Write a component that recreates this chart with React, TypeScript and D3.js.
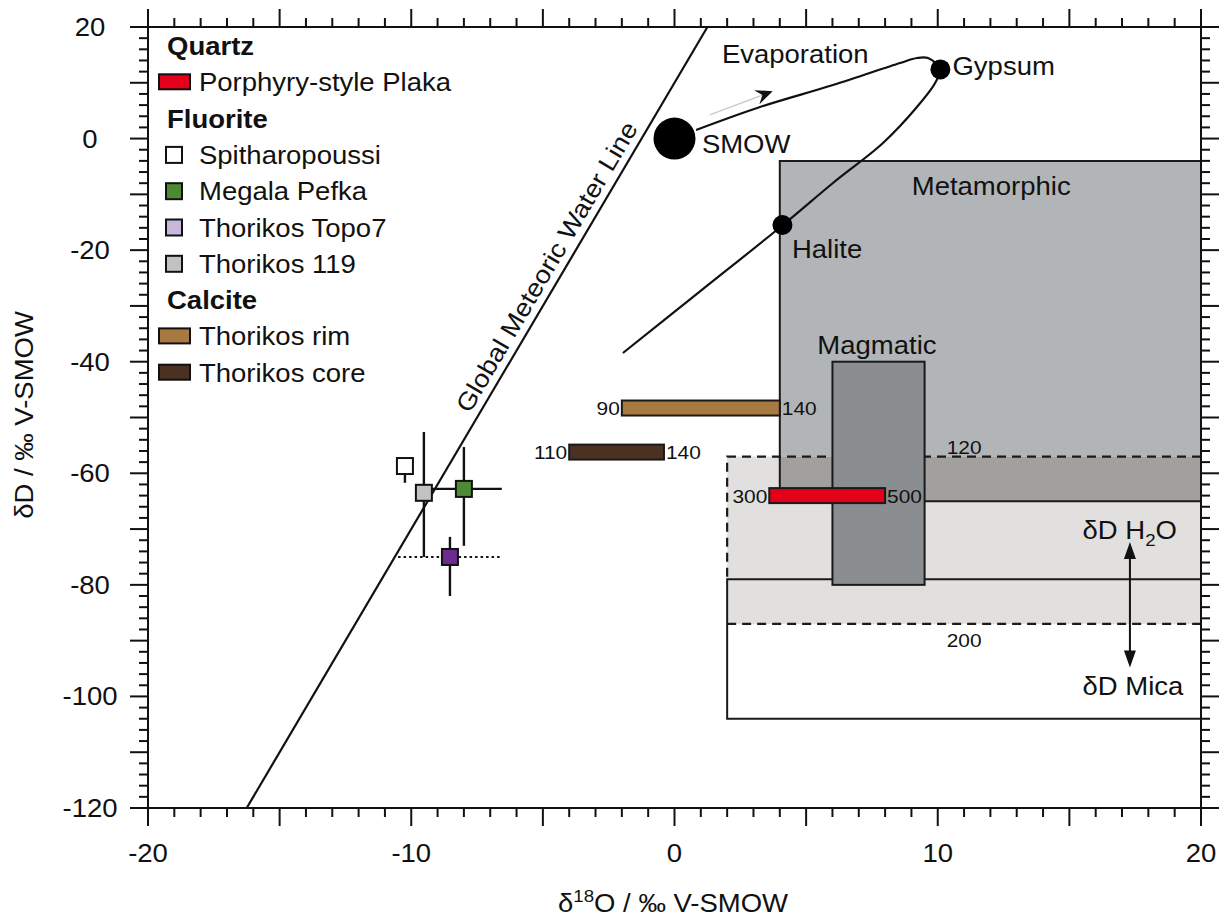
import React from "react";
import * as d3 from "d3";

// ---------- data ----------
const xDomain = [-20, 20];
const yDomain = [-120, 20];
const xLabelTicks = [-20, -10, 0, 10, 20];
const yLabelTicks = [20, 0, -20, -40, -60, -80, -100, -120];

// Global Meteoric Water Line: dD = 8 * d18O + 10
const gmwlSlope = 8;
const gmwlIntercept = 10;

// evaporation trajectory of sea water
const evapX = [0.82, 3.25, 6.02, 8.57, 9.21, 9.63, 10.09, 9.9, 9.21, 7.92, 6.02, 4.12, 0.97, -1.96];
const evapY = [1.54, 5.66, 9.6, 13.55, 14.44, 14.44, 12.47, 9.96, 5.66, -0.79, -7.96, -15.49, -27.4, -38.44];

// reference waters
const refNames = ["SMOW", "Gypsum", "Halite"];
const refX = [0, 10.1, 4.1];
const refY = [0, 12.4, -15.5];

// fields
const metamorphicX = [4, 20];
const metamorphicY = [-65, -4];
const magmaticX = [6, 9.5];
const magmaticY = [-80, -40];
const h2oX = [2, 20];
const h2oY = [-87, -57];
const micaX = [2, 20];
const micaY = [-104, -79];
const h2oTempLabels = ["120", "200"];

// quartz / calcite ranges (temperature labels at ends)
const barNames = ["Porphyry-style Plaka", "Thorikos rim", "Thorikos core"];
const barX0 = [3.6, -2.0, -4.0];
const barX1 = [8.0, 4.0, -0.4];
const barY = [-64.0, -48.3, -56.2];
const barLabelLo = ["300", "90", "110"];
const barLabelHi = ["500", "140", "140"];

// fluorite points
const ptNames = ["Spitharopoussi", "Thorikos 119", "Megala Pefka", "Thorikos Topo7"];
const ptX = [-10.24, -9.52, -8.0, -8.53];
const ptY = [-58.7, -63.5, -62.8, -75.0];
const ptYLo = [-61.7, -75.0, -73.0, -82.0];
const ptYHi = [-58.7, -52.6, -55.3, -71.4];
const ptXLo = [NaN, NaN, -9.44, -10.5];
const ptXHi = [NaN, NaN, -6.56, -6.55];

// legend
const legendLabels = [
  "Quartz", "Porphyry-style Plaka",
  "Fluorite", "Spitharopoussi", "Megala Pefka", "Thorikos Topo7", "Thorikos 119",
  "Calcite", "Thorikos rim", "Thorikos core",
];
const legendKinds = ["h", "bar", "h", "sq", "sq", "sq", "sq", "h", "bar", "bar"];

// ---------- style ----------
const FONT = "'Liberation Sans', Arial, Helvetica, sans-serif";
const SX = 1.1; // horizontal stretch of the reference typeface
const colors: Record<string, string> = {
  "Porphyry-style Plaka": "#e2001a",
  "Spitharopoussi": "#ffffff",
  "Megala Pefka": "#4e8a34",
  "Thorikos Topo7": "#c8b6db",
  "Thorikos 119": "#c2c2c2",
  "Thorikos rim": "#a87940",
  "Thorikos core": "#4a3122",
};
const plotColors: Record<string, string> = { ...colors, "Thorikos Topo7": "#6d2b8e" };
const refRadius: Record<string, number> = { SMOW: 21, Gypsum: 10, Halite: 10 };

const W = 1224, H = 918;
const L = 148, R = 1201, T = 27, B = 808;

type TxtProps = {
  x: number;
  y: number;
  size?: number;
  anchor?: "start" | "middle" | "end";
  weight?: string;
  rotate?: number;
  children: React.ReactNode;
};
function Txt({ x, y, size = 25, anchor = "start", weight = "normal", rotate = 0, children }: TxtProps) {
  return (
    <text
      transform={`translate(${x},${y}) rotate(${rotate}) scale(${SX},1)`}
      fontSize={size}
      fontWeight={weight}
      textAnchor={anchor}
      fill="#111"
    >
      {children}
    </text>
  );
}

export default function App() {
  const x = d3.scaleLinear().domain(xDomain).range([L, R]);
  const y = d3.scaleLinear().domain(yDomain).range([B, T]);

  const curve = d3
    .line<[number, number]>()
    .x((d) => x(d[0]))
    .y((d) => y(d[1]))
    .curve(d3.curveCatmullRom.alpha(0.5));
  const evapPts: [number, number][] = evapX.map((v, i) => [v, evapY[i]]);

  const gmwl: [number, number][] = [
    [(yDomain[0] - gmwlIntercept) / gmwlSlope, yDomain[0]],
    [(yDomain[1] - gmwlIntercept) / gmwlSlope, yDomain[1]],
  ];
  const gmwlAngle =
    (Math.atan2(y(gmwl[1][1]) - y(gmwl[0][1]), x(gmwl[1][0]) - x(gmwl[0][0])) * 180) / Math.PI;
  const gLabelDD = -24.5;
  const gLabelX = x((gLabelDD - gmwlIntercept) / gmwlSlope);
  const gLabelY = y(gLabelDD);
  const gRad = (gmwlAngle * Math.PI) / 180;
  // offset perpendicular to the line, toward upper-left
  const gOff = 8;
  const glx = gLabelX + gOff * Math.sin(gRad);
  const gly = gLabelY - gOff * Math.cos(gRad);

  const xMinor = d3.range(xDomain[0], xDomain[1] + 0.001, 1);
  const yMinor = d3.range(yDomain[0], yDomain[1] + 0.001, 2);

  const rect = (xs: number[], ys: number[]) => ({
    x: x(xs[0]),
    y: y(ys[1]),
    width: x(xs[1]) - x(xs[0]),
    height: y(ys[0]) - y(ys[1]),
  });

  const met = rect(metamorphicX, metamorphicY);
  const mag = rect(magmaticX, magmaticY);
  const h2o = rect(h2oX, h2oY);
  const mica = rect(micaX, micaY);
  const overlap = rect([metamorphicX[0], h2oX[1]], [metamorphicY[0], h2oY[1]]);

  // evaporation arrow
  const aS = [x(1.34), y(4.23)];
  const aTip = [x(3.73), y(8.5)];
  const aAng = Math.atan2(aTip[1] - aS[1], aTip[0] - aS[0]);
  const arrowHead = (tip: number[], ang: number, len: number, wid: number) => {
    const c = Math.cos(ang), s = Math.sin(ang);
    const bx = tip[0] - len * c, by = tip[1] - len * s;
    const nx = tip[0] - len * 0.65 * c, ny = tip[1] - len * 0.65 * s;
    const px = -s, py = c;
    return `M${tip[0]},${tip[1]}L${bx + (px * wid) / 2},${by + (py * wid) / 2}L${nx},${ny}L${bx - (px * wid) / 2},${by - (py * wid) / 2}Z`;
  };

  // double arrow dD H2O <-> dD Mica
  const dax = x(17.3);
  const daTop = y(-72.3);
  const daBot = y(-94.8);

  const legendRowY = (i: number) => 55 + i * 36.3;

  return (
    <svg
      width={W}
      height={H}
      style={{ position: "absolute", left: 0, top: 0, background: "#fff" }}
      fontFamily={FONT}
    >
      <rect x={0} y={0} width={W} height={H} fill="#fff" />
      {/* fields */}
      <rect {...met} fill="#b2b5b7" stroke="none" />
      <rect {...h2o} fill="#e2e0de" stroke="none" />
      <rect {...overlap} fill="#a2a09e" stroke="none" />
      <path
        d={`M${met.x + met.width},${met.y}H${met.x}V${met.y + met.height}H${met.x + met.width}`}
        fill="none"
        stroke="#1a1a1a"
        strokeWidth={2}
      />
      <path
        d={`M${h2o.x + h2o.width},${h2o.y}H${h2o.x}V${mica.y}`}
        fill="none"
        stroke="#1a1a1a"
        strokeWidth={2.2}
        strokeDasharray="9,6"
      />
      <line
        x1={h2o.x}
        x2={h2o.x + h2o.width}
        y1={h2o.y + h2o.height}
        y2={h2o.y + h2o.height}
        stroke="#1a1a1a"
        strokeWidth={2.2}
        strokeDasharray="9,6"
      />
      <path
        d={`M${mica.x + mica.width},${mica.y}H${mica.x}V${mica.y + mica.height}H${mica.x + mica.width}`}
        fill="none"
        stroke="#1a1a1a"
        strokeWidth={2}
      />
      <rect {...mag} fill="#8b8e90" stroke="#1a1a1a" strokeWidth={2} />

      {/* field labels */}
      <Txt x={x(12.03)} y={y(-10.1)} anchor="middle">Metamorphic</Txt>
      <Txt x={x(7.69)} y={y(-38.6)} anchor="middle">Magmatic</Txt>
      <Txt x={x(11.0)} y={y(-56.6)} size={19} anchor="middle">{h2oTempLabels[0]}</Txt>
      <Txt x={x(11.0)} y={y(-91.1)} size={19} anchor="middle">{h2oTempLabels[1]}</Txt>
      <Txt x={x(15.5)} y={y(-71.8)}>
        δD H<tspan fontSize={17} dy={7}>2</tspan>
        <tspan dy={-7}>O</tspan>
      </Txt>
      <Txt x={x(15.5)} y={y(-99.7)}>δD Mica</Txt>
      <line x1={dax} x2={dax} y1={daTop + 14} y2={daBot - 14} stroke="#111" strokeWidth={2} />
      <path d={`M${dax},${daTop}L${dax - 6},${daTop + 17}L${dax + 6},${daTop + 17}Z`} fill="#111" />
      <path d={`M${dax},${daBot}L${dax - 6},${daBot - 17}L${dax + 6},${daBot - 17}Z`} fill="#111" />

      {/* GMWL */}
      <line
        x1={x(gmwl[0][0])}
        y1={y(gmwl[0][1])}
        x2={x(gmwl[1][0])}
        y2={y(gmwl[1][1])}
        stroke="#111"
        strokeWidth={2.2}
      />
      <Txt x={glx} y={gly} rotate={gmwlAngle} anchor="middle">
        Global Meteoric Water Line
      </Txt>

      {/* evaporation curve */}
      <path d={curve(evapPts) || ""} fill="none" stroke="#111" strokeWidth={2.2} />
      <line x1={aS[0]} y1={aS[1]} x2={aTip[0] - 8 * Math.cos(aAng)} y2={aTip[1] - 8 * Math.sin(aAng)} stroke="#c9c9c9" strokeWidth={1.3} />
      <path d={arrowHead(aTip, aAng, 17, 15)} fill="#111" />
      <Txt x={x(1.8)} y={y(13.55)}>Evaporation</Txt>

      {refNames.map((n, i) => (
        <circle key={n} cx={x(refX[i])} cy={y(refY[i])} r={refRadius[n]} fill="#000" />
      ))}
      <Txt x={x(1.04)} y={y(-2.6)}>SMOW</Txt>
      <Txt x={x(10.56)} y={y(11.4)}>Gypsum</Txt>
      <Txt x={x(4.46)} y={y(-21.4)}>Halite</Txt>

      {/* bars */}
      {barNames.map((n, i) => (
        <g key={n}>
          <rect
            x={x(barX0[i])}
            y={y(barY[i]) - 7.5}
            width={x(barX1[i]) - x(barX0[i])}
            height={15}
            fill={colors[n]}
            stroke="#1a1a1a"
            strokeWidth={2}
          />
          <Txt x={x(barX0[i]) - 2} y={y(barY[i]) + 7} size={19} anchor="end">
            {barLabelLo[i]}
          </Txt>
          <Txt x={x(barX1[i]) + 2} y={y(barY[i]) + 7} size={19}>
            {barLabelHi[i]}
          </Txt>
        </g>
      ))}

      {/* fluorite error bars */}
      {ptNames.map((n, i) => (
        <g key={n + "e"}>
          <line x1={x(ptX[i])} x2={x(ptX[i])} y1={y(ptYLo[i])} y2={y(ptYHi[i])} stroke="#111" strokeWidth={2.4} />
          {!isNaN(ptXLo[i]) && (
            <line
              x1={x(ptXLo[i])}
              x2={x(ptXHi[i])}
              y1={y(ptY[i])}
              y2={y(ptY[i])}
              stroke="#111"
              strokeWidth={n === "Thorikos Topo7" ? 2 : 2.4}
              strokeDasharray={n === "Thorikos Topo7" ? "2.5,3" : undefined}
            />
          )}
        </g>
      ))}
      {ptNames.map((n, i) => (
        <rect
          key={n}
          x={x(ptX[i]) - 8}
          y={y(ptY[i]) - 8}
          width={16}
          height={16}
          fill={plotColors[n]}
          stroke="#111"
          strokeWidth={2}
        />
      ))}

      {/* frame and ticks */}
      <rect x={L} y={T} width={R - L} height={B - T} fill="none" stroke="#111" strokeWidth={2} />
      {xMinor.map((v) => {
        const len = Math.abs(v % 5) < 1e-6 ? 18 : 9;
        return (
          <g key={"xt" + v}>
            <line x1={x(v)} x2={x(v)} y1={B} y2={B + len} stroke="#111" strokeWidth={2} />
            <line x1={x(v)} x2={x(v)} y1={T} y2={T - len} stroke="#111" strokeWidth={2} />
          </g>
        );
      })}
      {yMinor.map((v) => {
        const len = Math.abs(v % 10) < 1e-6 ? 18 : 9;
        return (
          <g key={"yt" + v}>
            <line x1={L} x2={L - len} y1={y(v)} y2={y(v)} stroke="#111" strokeWidth={2} />
            <line x1={R} x2={R + len} y1={y(v)} y2={y(v)} stroke="#111" strokeWidth={2} />
          </g>
        );
      })}
      {xLabelTicks.map((v) => (
        <Txt key={"xl" + v} x={x(v)} y={862} anchor="middle">
          {v}
        </Txt>
      ))}
      {yLabelTicks.map((v) => (
        <Txt key={"yl" + v} x={90} y={y(v) + 9} anchor="middle">
          {v}
        </Txt>
      ))}
      <Txt x={673} y={912} anchor="middle">
        δ<tspan fontSize={17} dy={-10}>18</tspan>
        <tspan dy={10}>O / ‰ V-SMOW</tspan>
      </Txt>
      <Txt x={33} y={415} rotate={-90} anchor="middle">
        δD / ‰ V-SMOW
      </Txt>

      {/* legend */}
      {legendLabels.map((lab, i) => {
        const yy = legendRowY(i);
        const kind = legendKinds[i];
        if (kind === "h")
          return (
            <Txt key={lab} x={167} y={yy} weight="bold">
              {lab}
            </Txt>
          );
        return (
          <g key={lab}>
            {kind === "bar" ? (
              <rect x={159} y={yy - 17} width={31} height={15} fill={colors[lab]} stroke="#111" strokeWidth={2} />
            ) : (
              <rect x={166} y={yy - 17} width={16} height={16} fill={colors[lab]} stroke="#111" strokeWidth={2} />
            )}
            <Txt x={199} y={yy}>
              {lab}
            </Txt>
          </g>
        );
      })}
    </svg>
  );
}
